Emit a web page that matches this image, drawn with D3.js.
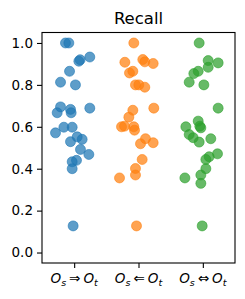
<!DOCTYPE html>
<html>
<head>
<meta charset="utf-8">
<script src="https://cdn.jsdelivr.net/npm/d3@7"></script>
<style>
  body { margin: 0; background: #fff; }
  svg text { font-family: "DejaVu Sans", sans-serif; }
</style>
</head>
<body>
<div id="chart"></div>
<script>
// categories: arrow between O_s and O_t
const arrows = ["\u21D2", "\u21D0", "\u21D4"];
const colors = ["#1f77b4", "#ff7f0e", "#2ca02c"];
const yTicks = [0.0, 0.2, 0.4, 0.6, 0.8, 1.0];

// recall per sample
const recallFwd = [1.0, 1.0, 0.913, 0.92, 0.933, 0.865, 0.813, 0.8, 0.695, 0.667, 0.683, 0.667, 0.689,
  0.571, 0.598, 0.598, 0.529, 0.552, 0.54, 0.492, 0.468, 0.433, 0.44, 0.4, 0.127];
const recallBwd = [1.0, 0.908, 0.921, 0.91, 0.902, 0.857, 0.865, 0.8, 0.8, 0.789, 0.689, 0.679, 0.646,
  0.6, 0.603, 0.6, 0.584, 0.543, 0.519, 0.524, 0.444, 0.401, 0.37, 0.356, 0.127];
const recallBoth = [1.0, 0.916, 0.905, 0.884, 0.865, 0.854, 0.813, 0.8, 0.689, 0.627, 0.6, 0.603, 0.595,
  0.563, 0.548, 0.527, 0.543, 0.471, 0.457, 0.444, 0.4, 0.37, 0.356, 0.33, 0.127];

// horizontal jitter (category units)
const jitterFwd = [-0.135, -0.083, 0.073, 0.093, 0.243, -0.072, -0.212, 0.02, -0.212, -0.264, -0.057, -0.047, 0.243,
  -0.29, -0.16, -0.031, -0.057, 0.047, 0.124, 0.098, 0.228, -0.031, 0.036, -0.031, -0.016];
const jitterBwd = [-0.073, -0.212, 0.067, 0.098, 0.228, -0.14, -0.088, -0.047, 0.005, 0.098, 0.238, -0.088, -0.15,
  -0.264, -0.217, -0.073, -0.062, 0.109, 0.031, 0.228, 0.057, -0.047, -0.047, -0.295, -0.031];
const jitterBoth = [-0.057, 0.083, 0.238, 0.083, -0.072, -0.14, -0.212, 0.016, 0.238, -0.072, -0.264, -0.047, -0.031,
  -0.212, -0.15, -0.057, 0.124, 0.228, 0.098, 0.047, 0.047, -0.031, -0.279, -0.031, -0.01];

const series = [
  {values: recallFwd, jitter: jitterFwd},
  {values: recallBwd, jitter: jitterBwd},
  {values: recallBoth, jitter: jitterBoth}
];

const W = 245, H = 299;
const margin = {top: 32.5, right: 10, bottom: 36, left: 42};

const svg = d3.select("#chart").append("svg")
  .attr("width", W).attr("height", H);

const x = d3.scaleLinear().domain([-0.5, 2.5]).range([margin.left, W - margin.right]);
const y = d3.scaleLinear().domain([-0.05, 1.05]).range([H - margin.bottom, margin.top]);

// points
series.forEach(function(s, i) {
  svg.append("g").selectAll("circle")
    .data(s.values)
    .enter().append("circle")
    .attr("cx", function(d, j) { return x(i + s.jitter[j]); })
    .attr("cy", function(d) { return y(d); })
    .attr("r", 5.0)
    .attr("fill", colors[i])
    .attr("fill-opacity", 0.72)
    .attr("stroke", colors[i])
    .attr("stroke-opacity", 0.72)
    .attr("stroke-width", 0.8);
});

// y axis
const yAxis = svg.append("g")
  .attr("transform", "translate(" + margin.left + ",0)")
  .call(d3.axisLeft(y).tickValues(yTicks).tickFormat(d3.format(".1f")).tickSize(5).tickPadding(4));
yAxis.select(".domain").remove();
yAxis.selectAll("text").attr("font-size", 13.5).attr("fill", "#000").attr("font-family", "DejaVu Sans");
yAxis.selectAll("line").attr("stroke", "#000").attr("stroke-width", 1.1);

// x axis
const xAxis = svg.append("g")
  .attr("transform", "translate(0," + (H - margin.bottom) + ")")
  .call(d3.axisBottom(x).tickValues([0, 1, 2]).tickFormat("").tickSize(5));
xAxis.select(".domain").remove();
xAxis.selectAll("line").attr("stroke", "#000").attr("stroke-width", 1.1);

arrows.forEach(function(a, i) {
  const t = svg.append("text")
    .attr("x", x(i))
    .attr("y", 283)
    .attr("text-anchor", "middle")
    .attr("font-size", 13.5)
    .attr("fill", "#000");
  t.append("tspan").attr("font-style", "italic").text("O");
  t.append("tspan").attr("font-style", "italic").attr("font-size", 9.5).attr("dy", 2.5).text("s");
  t.append("tspan").attr("dy", -2.5).attr("dx", 3).text(a);
  t.append("tspan").attr("dx", 3).attr("font-style", "italic").text("O");
  t.append("tspan").attr("font-style", "italic").attr("font-size", 9.5).attr("dy", 2.5).text("t");
});

// frame
svg.append("rect")
  .attr("x", margin.left).attr("y", margin.top)
  .attr("width", W - margin.right - margin.left)
  .attr("height", H - margin.bottom - margin.top)
  .attr("fill", "none").attr("stroke", "#000").attr("stroke-width", 1.1);

// title
svg.append("text")
  .attr("x", (margin.left + W - margin.right) / 2)
  .attr("y", 24)
  .attr("text-anchor", "middle")
  .attr("font-size", 16.5)
  .attr("fill", "#000")
  .text("Recall");
</script>
</body>
</html>
